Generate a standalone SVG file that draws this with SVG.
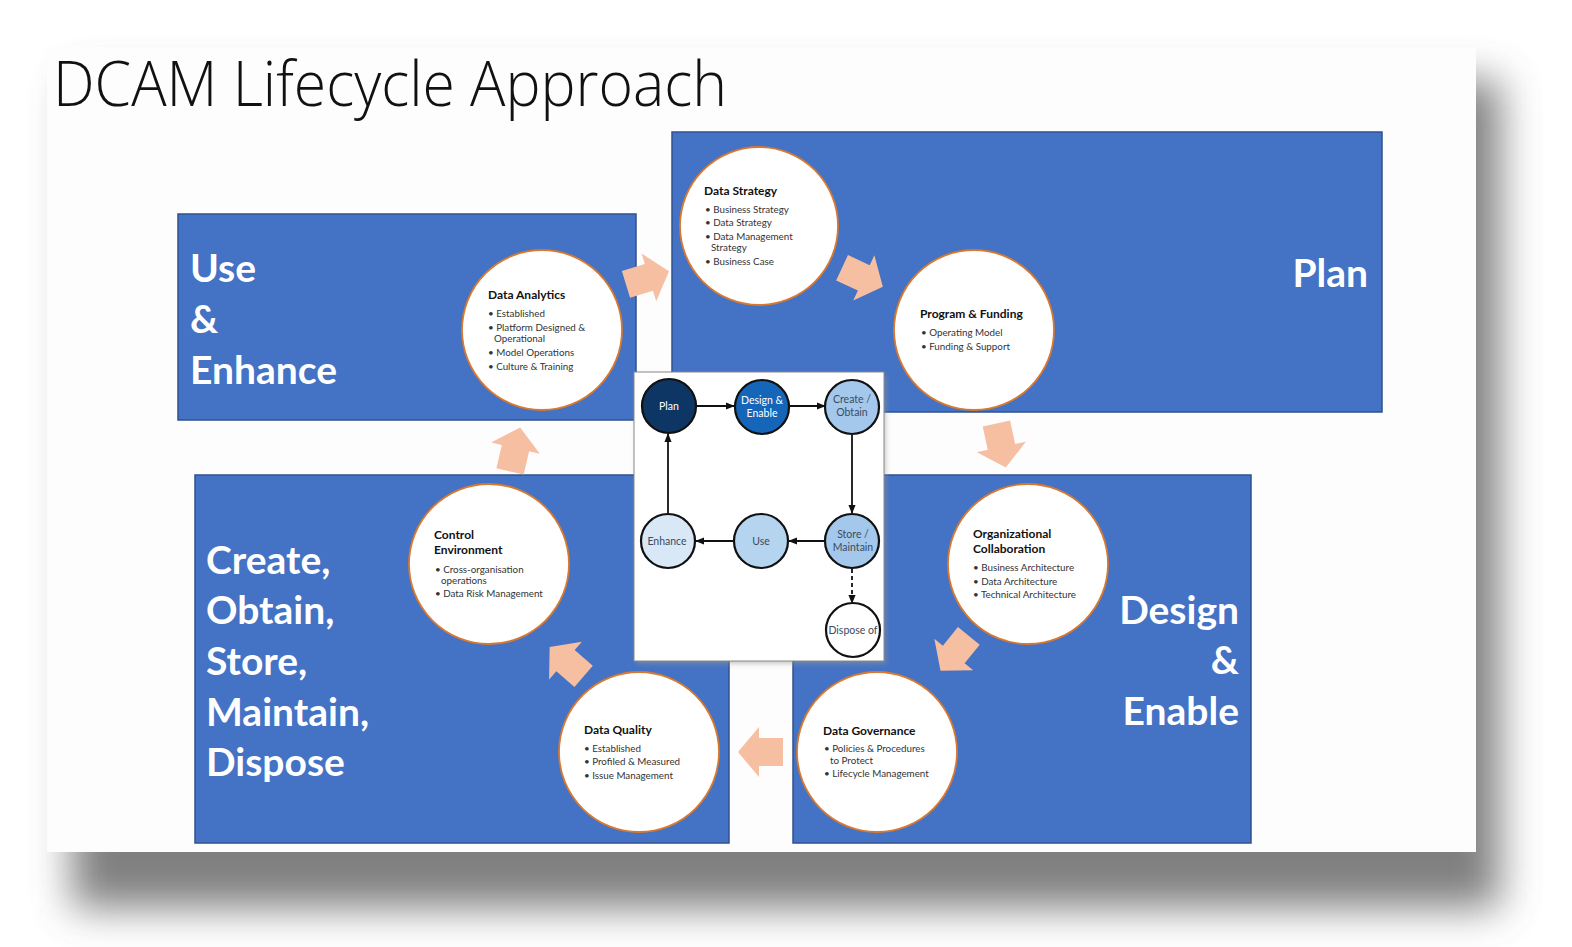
<svg xmlns="http://www.w3.org/2000/svg" width="1572" height="947" viewBox="0 0 1572 947">
<defs>
  <filter id="shadow" x="-10%" y="-10%" width="125%" height="130%">
    <feGaussianBlur stdDeviation="20"/>
  </filter>
  <filter id="soft" x="-20%" y="-20%" width="140%" height="140%">
    <feGaussianBlur stdDeviation="2.5"/>
  </filter>
  <path id="barrow" d="M-22,-14 H2 V-25 L23,0 L2,25 V14 H-22 Z"/>
  <marker id="ah" viewBox="0 0 10 10" refX="9" refY="5" markerWidth="5" markerHeight="5" orient="auto">
    <path d="M0,1 L10,5 L0,9 Z" fill="#111"/>
  </marker>
  <style>
    .box{fill:#4472C4;stroke:#2F528F;stroke-width:1.5}
    .circ{fill:#fff;stroke:#D9792F;stroke-width:1.8}
    .big{font-family:Lato,"Liberation Sans",sans-serif;font-weight:700;font-size:39px;fill:#fff}
    .ct{font-family:Lato,"Liberation Sans",sans-serif;font-weight:700;font-size:12px;fill:#111}
    .cb{font-family:Lato,"Liberation Sans",sans-serif;font-size:9.8px;fill:#333}
    .sal{fill:#F6BFA2}
    .ic{stroke:#111;stroke-width:2.2}
    .it{font-family:Lato,"Liberation Sans",sans-serif;font-size:10.5px;text-anchor:middle}
    .ln{stroke:#111;stroke-width:1.8;fill:none}
  </style>
</defs>

<rect width="1572" height="947" fill="#fff"/>
<!-- slide shadow -->
<rect x="72" y="80" width="1428" height="828" fill="#555" opacity="0.75" filter="url(#shadow)"/>
<!-- slide -->
<rect x="47" y="47" width="1429" height="805" fill="#fdfdfd"/>

<text x="53" y="106" font-family="'Open Sans','Liberation Sans',sans-serif" font-weight="300" font-size="62" fill="#111" textLength="674" lengthAdjust="spacingAndGlyphs">DCAM Lifecycle Approach</text>

<!-- blue boxes -->
<g id="box-plan">
  <rect class="box" x="672" y="132" width="710" height="280"/>
  <text class="big" x="1368" y="287" text-anchor="end">Plan</text>
</g>
<g id="box-use">
  <rect class="box" x="178" y="214" width="458" height="206"/>
  <text class="big" x="190" y="282">Use</text>
  <text class="big" x="190" y="333">&amp;</text>
  <text class="big" x="190" y="384">Enhance</text>
</g>
<g id="box-create">
  <rect class="box" x="195" y="475" width="534" height="368"/>
  <text class="big" x="206" y="574">Create,</text>
  <text class="big" x="206" y="624">Obtain,</text>
  <text class="big" x="206" y="675">Store,</text>
  <text class="big" x="206" y="726">Maintain,</text>
  <text class="big" x="206" y="776">Dispose</text>
</g>
<g id="box-design">
  <rect class="box" x="793" y="475" width="458" height="368"/>
  <text class="big" x="1239" y="624" text-anchor="end">Design</text>
  <text class="big" x="1239" y="674" text-anchor="end">&amp;</text>
  <text class="big" x="1239" y="725" text-anchor="end">Enable</text>
</g>

<!-- salmon connectors -->
<g id="connectors">
  <use href="#barrow" class="sal" transform="translate(647,278) rotate(-17)"/>
  <use href="#barrow" class="sal" transform="translate(862,277) rotate(25)"/>
  <use href="#barrow" class="sal" transform="translate(1001,445) rotate(78)"/>
  <use href="#barrow" class="sal" transform="translate(955,653) rotate(129)"/>
  <use href="#barrow" class="sal" transform="translate(761,752) rotate(180)"/>
  <use href="#barrow" class="sal" transform="translate(567,662) rotate(221)"/>
  <use href="#barrow" class="sal" transform="translate(515,450) rotate(-77)"/>
</g>

<!-- circles -->
<g id="c-strategy">
  <circle class="circ" cx="759" cy="226" r="79"/>
  <text class="ct" x="704" y="195">Data Strategy</text>
  <text class="cb" x="705" y="213">• Business Strategy</text>
  <text class="cb" x="705" y="226">• Data Strategy</text>
  <text class="cb" x="705" y="240">• Data Management</text>
  <text class="cb" x="711" y="251">Strategy</text>
  <text class="cb" x="705" y="265">• Business Case</text>
</g>
<g id="c-program">
  <circle class="circ" cx="974" cy="330" r="80"/>
  <text class="ct" x="920" y="318">Program &amp; Funding</text>
  <text class="cb" x="921" y="336">• Operating Model</text>
  <text class="cb" x="921" y="350">• Funding &amp; Support</text>
</g>
<g id="c-analytics">
  <circle class="circ" cx="542" cy="330" r="80"/>
  <text class="ct" x="488" y="299">Data Analytics</text>
  <text class="cb" x="488" y="317">• Established</text>
  <text class="cb" x="488" y="331">• Platform Designed &amp;</text>
  <text class="cb" x="494" y="342">Operational</text>
  <text class="cb" x="488" y="356">• Model Operations</text>
  <text class="cb" x="488" y="370">• Culture &amp; Training</text>
</g>
<g id="c-control">
  <circle class="circ" cx="489" cy="564" r="80"/>
  <text class="ct" x="434" y="539">Control</text>
  <text class="ct" x="434" y="554">Environment</text>
  <text class="cb" x="435" y="573">• Cross-organisation</text>
  <text class="cb" x="441" y="584">operations</text>
  <text class="cb" x="435" y="597">• Data Risk Management</text>
</g>
<g id="c-org">
  <circle class="circ" cx="1028" cy="564" r="80"/>
  <text class="ct" x="973" y="538">Organizational</text>
  <text class="ct" x="973" y="553">Collaboration</text>
  <text class="cb" x="973" y="571">• Business Architecture</text>
  <text class="cb" x="973" y="585">• Data Architecture</text>
  <text class="cb" x="973" y="598">• Technical Architecture</text>
</g>
<g id="c-quality">
  <circle class="circ" cx="639" cy="752" r="80"/>
  <text class="ct" x="584" y="734">Data Quality</text>
  <text class="cb" x="584" y="752">• Established</text>
  <text class="cb" x="584" y="765">• Profiled &amp; Measured</text>
  <text class="cb" x="584" y="779">• Issue Management</text>
</g>
<g id="c-governance">
  <circle class="circ" cx="877" cy="752" r="80"/>
  <text class="ct" x="823" y="735">Data Governance</text>
  <text class="cb" x="824" y="752">• Policies &amp; Procedures</text>
  <text class="cb" x="830" y="764">to Protect</text>
  <text class="cb" x="824" y="777">• Lifecycle Management</text>
</g>

<!-- inset lifecycle diagram -->
<g id="inset">
  <rect x="636" y="375" width="250" height="289" fill="#999" opacity="0.5" filter="url(#soft)"/>
  <rect x="634" y="372" width="250" height="289" fill="#fff" stroke="#888" stroke-width="1"/>
</g>
<g id="inset-connectors">
  <line class="ln" x1="697" y1="406" x2="734" y2="406" marker-end="url(#ah)"/>
  <line class="ln" x1="790" y1="406" x2="825" y2="406" marker-end="url(#ah)"/>
  <line class="ln" x1="852" y1="435" x2="852" y2="513" marker-end="url(#ah)"/>
  <line class="ln" x1="825" y1="541" x2="789" y2="541" marker-end="url(#ah)"/>
  <line class="ln" x1="733" y1="541" x2="696" y2="541" marker-end="url(#ah)"/>
  <line class="ln" x1="668" y1="513" x2="668" y2="434" marker-end="url(#ah)"/>
  <line class="ln" x1="852" y1="569" x2="852" y2="603" stroke-dasharray="4,3" marker-end="url(#ah)"/>
</g>
<g id="n-plan">
  <circle class="ic" cx="669" cy="406" r="27" fill="#0E3664"/>
  <text class="it" x="669" y="410" fill="#fff">Plan</text>
</g>
<g id="n-design">
  <circle class="ic" cx="762" cy="407" r="27" fill="#1565B8"/>
  <text class="it" x="762" y="404" fill="#fff">Design &amp;</text>
  <text class="it" x="762" y="417" fill="#fff">Enable</text>
</g>
<g id="n-create">
  <circle class="ic" cx="852" cy="407" r="27" fill="#A4C8EC"/>
  <text class="it" x="852" y="403" fill="#3B4A60">Create /</text>
  <text class="it" x="852" y="416" fill="#3B4A60">Obtain</text>
</g>
<g id="n-store">
  <circle class="ic" cx="852" cy="541" r="27" fill="#A4C8EC"/>
  <text class="it" x="853" y="538" fill="#3B4A60">Store /</text>
  <text class="it" x="853" y="551" fill="#3B4A60">Maintain</text>
</g>
<g id="n-use">
  <circle class="ic" cx="761" cy="541" r="27" fill="#B5D4F0"/>
  <text class="it" x="761" y="545" fill="#3B4A60">Use</text>
</g>
<g id="n-enhance">
  <circle class="ic" cx="668" cy="541" r="27" fill="#D9E8F6"/>
  <text class="it" x="667" y="545" fill="#3B4A60">Enhance</text>
</g>
<g id="n-dispose">
  <circle class="ic" cx="853" cy="630" r="27" fill="#fff"/>
  <text class="it" x="853" y="634" fill="#3B4A60">Dispose of</text>
</g>
</svg>
